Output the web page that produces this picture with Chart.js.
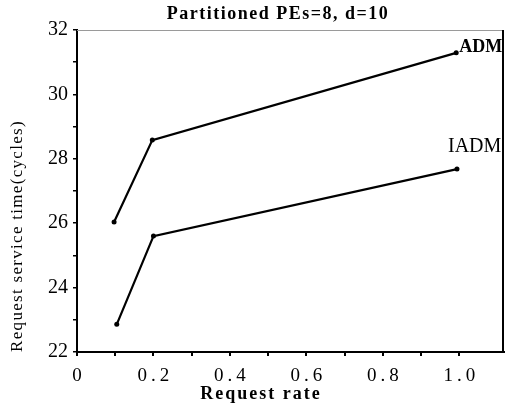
<!DOCTYPE html>
<html>
<head>
<meta charset="utf-8">
<script src="https://cdn.jsdelivr.net/npm/chart.js@4.4.1/dist/chart.umd.min.js"></script>
<style>
  html, body { margin: 0; padding: 0; background: #fff; }
  #wrap { width: 508px; height: 412px; }
</style>
</head>
<body>
<div id="wrap"><canvas id="chart"></canvas></div>
<script>
// values
const admX = [0.097, 0.197, 0.992];
const admY = [26.04, 28.58, 31.29];
const iadmX = [0.104, 0.2, 0.994];
const iadmY = [22.86, 25.6, 27.68];
const xTickLabels = [0, 0.2, 0.4, 0.6, 0.8, 1.0];
const seriesNames = ["ADM", "IADM"];

const SERIF = "'Liberation Serif', 'DejaVu Serif', serif";

function toPoints(xs, ys) {
    return xs.map((x, i) => ({ x: x, y: ys[i] }));
}

// frame, titles and the x tick labels (spaced like the original print)
const textPlugin = {
    id: "textPlugin",
    afterDraw(chart) {
        const ctx = chart.ctx;
        const area = chart.chartArea;
        const xs = chart.scales.x;

        ctx.save();
        // top edge is faint, right edge is solid
        ctx.strokeStyle = "#9a9a9a";
        ctx.lineWidth = 1;
        ctx.beginPath();
        ctx.moveTo(area.left, area.top + 0.5);
        ctx.lineTo(area.right, area.top + 0.5);
        ctx.stroke();
        ctx.strokeStyle = "#000";
        ctx.lineWidth = 2;
        ctx.beginPath();
        ctx.moveTo(area.right - 1, area.top);
        ctx.lineTo(area.right - 1, area.bottom);
        ctx.stroke();

        ctx.fillStyle = "#000";
        ctx.textBaseline = "middle";
        ctx.textAlign = "center";

        ctx.font = "bold 18px " + SERIF;
        ctx.letterSpacing = "1.5px";
        ctx.fillText("Partitioned PEs=8, d=10", 278, 14);

        ctx.font = "19px " + SERIF;
        ctx.letterSpacing = "4px";
        xTickLabels.forEach(v => {
            const label = v === 0 ? "0" : v.toFixed(1);
            ctx.fillText(label, xs.getPixelForValue(v) + 2, 376);
        });

        ctx.font = "bold 18px " + SERIF;
        ctx.letterSpacing = "2px";
        ctx.fillText("Request rate", 261, 394);

        ctx.save();
        ctx.translate(18, 236);
        ctx.rotate(-Math.PI / 2);
        ctx.font = "17px " + SERIF;
        ctx.letterSpacing = "1.3px";
        ctx.fillText("Request service time(cycles)", 0, 0);
        ctx.restore();

        // series names next to the last point of each line
        ctx.letterSpacing = "0px";
        ctx.textAlign = "left";
        chart.data.datasets.forEach((ds, i) => {
            const meta = chart.getDatasetMeta(i);
            const last = meta.data[meta.data.length - 1];
            if (i === 0) {
                ctx.font = "bold 18px " + SERIF;
                ctx.fillText(ds.label, last.x + 3, last.y - 6);
            } else {
                ctx.font = "20px " + SERIF;
                ctx.fillText(ds.label, last.x - 9, last.y - 22);
            }
        });
        ctx.restore();
    }
};

const lineStyle = {
    borderColor: "#000",
    backgroundColor: "#000",
    borderWidth: 2.2,
    pointRadius: 2.5,
    pointBorderWidth: 0,
    fill: false,
    tension: 0
};

new Chart(document.getElementById("chart").getContext("2d"), {
    type: "scatter",
    data: {
        datasets: [
            Object.assign({ label: seriesNames[0], data: toPoints(admX, admY), showLine: true }, lineStyle),
            Object.assign({ label: seriesNames[1], data: toPoints(iadmX, iadmY), showLine: true }, lineStyle)
        ]
    },
    options: {
        responsive: true,
        maintainAspectRatio: false,
        animation: false,
        layout: { padding: { top: 30, right: 3, left: 0, bottom: 0 } },
        plugins: {
            legend: { display: false },
            title: { display: false },
            tooltip: { enabled: false }
        },
        scales: {
            x: {
                type: "linear",
                min: 0,
                max: 1.117,
                afterFit: scale => { scale.height = 60; },
                afterBuildTicks: scale => {
                    scale.ticks = scale.ticks.filter(t => t.value < 1.05);
                },
                border: { color: "#000", width: 2 },
                grid: { drawOnChartArea: false, color: "#000", lineWidth: 2, tickLength: 4 },
                ticks: {
                    stepSize: 0.1,
                    includeBounds: false,
                    callback: () => ""
                }
            },
            y: {
                min: 22,
                max: 32,
                afterFit: scale => { scale.width = 77; },
                border: { color: "#000", width: 2 },
                grid: { drawOnChartArea: false, color: "#000", lineWidth: 1.5, tickLength: 4 },
                ticks: {
                    stepSize: 1,
                    color: "#000",
                    padding: 5,
                    font: { family: SERIF, size: 20 },
                    callback: v => (v % 2 === 0 ? String(v) : "")
                }
            }
        }
    },
    plugins: [textPlugin]
});
</script>
</body>
</html>
